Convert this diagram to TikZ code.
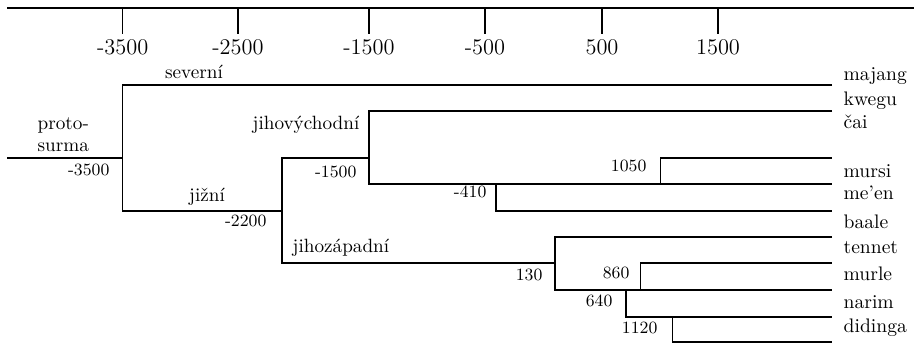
\documentclass[tikz,border=0pt]{standalone}
\usepackage{fontspec}

\begin{document}
\begin{tikzpicture}[x=0.5pt,y=-0.5pt,line width=0.65pt,
  lang node/.style={anchor=west,inner sep=0pt,font=\fontsize{9.8}{11}\selectfont},
  group node/.style={inner sep=0pt,font=\fontsize{9.6}{11}\selectfont},
  date node/.style={anchor=east,inner sep=0pt,font=\fontsize{8.6}{10}\selectfont},
  year node/.style={inner sep=0pt,font=\fontsize{11.2}{13}\selectfont}]
  \useasboundingbox (0,0) rectangle (914,343);
  % time axis
  \coordinate (ax0) at (7,8);
  \coordinate (ax1) at (914,8);
  \node[year node] (y1) at (122.7,47) {-3500};
  \node[year node] (y2) at (238,47)   {-2500};
  \node[year node] (y3) at (369,47)   {-1500};
  \node[year node] (y4) at (485,47)   {-500};
  \node[year node] (y5) at (602,47)   {500};
  \node[year node] (y6) at (718,47)   {1500};
  \draw (ax0) -- (ax1);
  \draw (y1 |- ax0) -- ([yshift=2.5pt]y1.north);
  \draw (y2 |- ax0) -- ([yshift=2.5pt]y2.north);
  \draw (y3 |- ax0) -- ([yshift=2.5pt]y3.north);
  \draw (y4 |- ax0) -- ([yshift=2.5pt]y4.north);
  \draw (y5 |- ax0) -- ([yshift=2.5pt]y5.north);
  \draw (y6 |- ax0) -- ([yshift=2.5pt]y6.north);
  % split points
  \coordinate (root) at (7,158);
  \coordinate (A) at (122.7,158);
  \coordinate (B) at (282,211);
  \coordinate (C) at (369,158);
  \coordinate (D) at (496,184);
  \coordinate (E) at (555,263);
  \coordinate (F) at (660.7,184);
  \coordinate (G) at (640.7,290);
  \coordinate (H) at (626,290);
  \coordinate (I) at (672.7,317);
  % line ends
  \coordinate (e1)  at (832,85);
  \coordinate (e2)  at (832,111);
  \coordinate (e3)  at (832,158);
  \coordinate (e4)  at (832,184);
  \coordinate (e5)  at (832,211);
  \coordinate (e6)  at (832,237);
  \coordinate (e7)  at (832,263);
  \coordinate (e8)  at (832,290);
  \coordinate (e9)  at (832,317);
  \coordinate (e10) at (832,342);
  % languages
  \node[lang node] (majang)  at (843,76)  {majang};
  \node[lang node] (kwegu)   at (843,101) {kwegu};
  \node[lang node] (cai)     at (843,122) {čai};
  \node[lang node] (mursi)   at (843,171) {mursi};
  \node[lang node] (meen)    at (843,193) {me’en};
  \node[lang node] (baale)   at (843,222) {baale};
  \node[lang node] (tennet)  at (843,248) {tennet};
  \node[lang node] (murle)   at (843,274) {murle};
  \node[lang node] (narim)   at (843,302) {narim};
  \node[lang node] (didinga) at (843,328) {didinga};
  % groups
  \node[group node,anchor=north west,align=left] (proto) at (37,117) {proto-\\surma};
  \node[group node] (severni) at (194,72) {severní};
  \node[group node,anchor=east] (jihovych) at (360,125) {jihovýchodní};
  \node[group node] (jizni) at (207,197) {jižní};
  \node[group node,anchor=west] (jihozap) at (292,248) {jihozápadní};
  % dates
  \node[date node] (dA) at (110,170) {-3500};
  \node[date node] (dB) at (267,221) {-2200};
  \node[date node] (dC) at (357,172) {-1500};
  \node[date node] (dD) at (487,192) {-410};
  \node[date node] (dE) at (543,275) {130};
  \node[date node] (dF) at (647,166) {1050};
  \node[date node] (dG) at (630,273) {860};
  \node[date node] (dH) at (613,301) {640};
  \node[date node] (dI) at (658,328) {1120};
  % tree
  \draw (root) -- (A);
  \draw (e1) -| (A) |- (B);
  \draw (C) -| (B) |- (E);
  \draw (e2) -| (C) |- (e4);
  \draw (D) |- (e5);
  \draw (F) |- (e3);
  \draw (e6) -| (E) |- (e8);
  \draw (G) |- (e7);
  \draw (H) |- (e9);
  \draw (I) |- (e10);
\end{tikzpicture}
\end{document}
